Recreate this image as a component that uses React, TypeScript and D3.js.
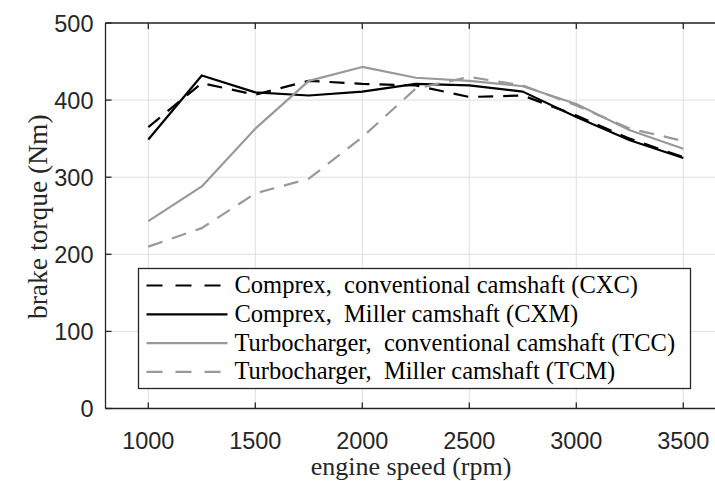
import React from "react";
import * as d3 from "d3";

const speeds = [1000, 1250, 1500, 1750, 2000, 2250, 2500, 2750, 3000, 3250, 3500];
const cxc = [365, 422, 407, 425, 421, 419, 404, 406, 380, 350, 326];
const cxm = [349, 432, 410, 406, 411, 421, 419, 411, 378, 348, 325];
const tcc = [243, 288, 363, 425, 443, 429, 425, 418, 395, 361, 337];
const tcm = [210, 234, 279, 298, 352, 415, 430, 419, 393, 363, 347];
const xTicks = [1000, 1500, 2000, 2500, 3000, 3500];
const yTicks = [0, 100, 200, 300, 400, 500];
const seriesNames = [
  "Comprex,\u2002conventional camshaft (CXC)",
  "Comprex,\u2002Miller camshaft (CXM)",
  "Turbocharger,\u2002conventional camshaft (TCC)",
  "Turbocharger,\u2002Miller camshaft (TCM)",
];

const W = 715;
const H = 481;
const left = 105.5;
const top = 23;
const bottom = 408.5;

export default function App() {
  const x = d3.scaleLinear().domain([800, 3700]).range([left, left + (2900 / 500) * 107]);
  const y = d3.scaleLinear().domain([0, 500]).range([bottom, top]);
  const right = W + 5;
  const series = [
    { name: seriesNames[0], vals: cxc, color: "#000", dash: "15,10" },
    { name: seriesNames[1], vals: cxm, color: "#000", dash: null },
    { name: seriesNames[2], vals: tcc, color: "#999", dash: null },
    { name: seriesNames[3], vals: tcm, color: "#999", dash: "15,10" },
  ];
  const line = d3
    .line<number>()
    .x((_, i) => x(speeds[i]))
    .y((d) => y(d));
  const axisColor = "#262626";
  const sans = "'Liberation Sans', Arial, sans-serif";
  const serif = "'Liberation Serif', 'Times New Roman', serif";
  const legX = 138.5;
  const legY = 268.5;
  const legW = 552;
  const legH = 120;
  const rowH = 28.8;
  return (
    <svg
      width={W}
      height={H}
      style={{ position: "absolute", left: 0, top: 0, background: "#fff" }}
    >
      <rect x={0} y={0} width={W} height={H} fill="#fff" />
      {xTicks.map((t) => (
        <line key={"gx" + t} x1={x(t)} x2={x(t)} y1={top} y2={bottom} stroke="#dfdfdf" strokeWidth={1} />
      ))}
      {yTicks.map((t) => (
        <line key={"gy" + t} x1={left} x2={right} y1={y(t)} y2={y(t)} stroke="#dfdfdf" strokeWidth={1} />
      ))}
      {series.map((s) => (
        <path
          key={s.name}
          d={line(s.vals) || ""}
          fill="none"
          stroke={s.color}
          strokeWidth={2.2}
          strokeDasharray={s.dash || undefined}
          strokeLinejoin="round"
        />
      ))}
      <line x1={left} x2={left} y1={top} y2={bottom} stroke={axisColor} strokeWidth={1.3} />
      <line x1={left} x2={right} y1={bottom} y2={bottom} stroke={axisColor} strokeWidth={1.3} />
      <line x1={left} x2={right} y1={top} y2={top} stroke={axisColor} strokeWidth={1.3} />
      {xTicks.map((t) => (
        <g key={"xt" + t}>
          <line x1={x(t)} x2={x(t)} y1={bottom} y2={bottom - 6} stroke={axisColor} strokeWidth={1.3} />
          <line x1={x(t)} x2={x(t)} y1={top} y2={top + 6} stroke={axisColor} strokeWidth={1.3} />
          <text x={x(t)} y={bottom + 40} textAnchor="middle" fontFamily={sans} fontSize={23.5} fill="#262626">
            {t}
          </text>
        </g>
      ))}
      {yTicks.map((t) => (
        <g key={"yt" + t}>
          <line x1={left} x2={left + 6} y1={y(t)} y2={y(t)} stroke={axisColor} strokeWidth={1.3} />
          <text x={left - 12} y={y(t) + 8.5} textAnchor="end" fontFamily={sans} fontSize={23.5} fill="#262626">
            {t}
          </text>
        </g>
      ))}
      <text x={411} y={475} textAnchor="middle" fontFamily={serif} fontSize={26} fill="#262626">
        engine speed (rpm)
      </text>
      <text
        transform={`translate(47,${(top + bottom) / 2 + 1}) rotate(-90)`}
        textAnchor="middle"
        fontFamily={serif}
        fontSize={27.5}
        fill="#262626"
      >
        brake torque (Nm)
      </text>
      <rect x={legX} y={legY} width={legW} height={legH} fill="#fff" stroke={axisColor} strokeWidth={1.3} />
      {series.map((s, i) => {
        const cy = legY + 17 + i * rowH;
        return (
          <g key={"lg" + i}>
            <line
              x1={legX + 8}
              x2={legX + 89}
              y1={cy}
              y2={cy}
              stroke={s.color}
              strokeWidth={2.2}
              strokeDasharray={s.dash ? "16,13" : undefined}
            />
            <text x={legX + 96} y={cy + 7.5} fontFamily={serif} fontSize={24.5} fill="#000">
              {s.name}
            </text>
          </g>
        );
      })}
    </svg>
  );
}
